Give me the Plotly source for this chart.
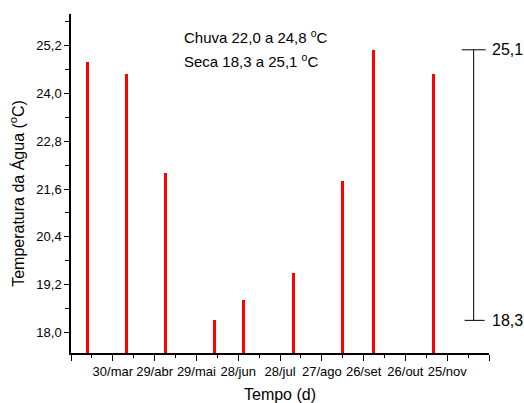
import plotly.graph_objects as go
import datetime as dt

# ---- data ----
dates = ["2010-03-12", "2010-04-09", "2010-05-07", "2010-06-11", "2010-07-02",
         "2010-08-07", "2010-09-11", "2010-10-03", "2010-11-15"]
temps = [24.8, 24.5, 22.0, 18.3, 18.8, 19.5, 21.8, 25.1, 24.5]
season = ["Chuva", "Chuva", "Chuva", "Seca", "Seca", "Seca", "Seca", "Seca", "Chuva"]

x_tick_dates = ["2010-02-28", "2010-03-30", "2010-04-29", "2010-05-29", "2010-06-28",
                "2010-07-28", "2010-08-27", "2010-09-26", "2010-10-26", "2010-11-25",
                "2010-12-25"]
x_tick_labels = ["", "30/mar", "29/abr", "29/mai", "28/jun", "28/jul", "27/ago",
                 "26/set", "26/out", "25/nov", ""]
y_ticks = [18.0, 19.2, 20.4, 21.6, 22.8, 24.0, 25.2]
marker_date = "2010-12-14"

FONT = "Arial, 'Liberation Sans', sans-serif"

def fmt(v):
    return f"{v:.1f}".replace(".", ",")

chuva = [t for t, s in zip(temps, season) if s == "Chuva"]
seca = [t for t, s in zip(temps, season) if s == "Seca"]

minor_x = []
for d in x_tick_dates[:-1]:
    dd = dt.date.fromisoformat(d) + dt.timedelta(days=15)
    minor_x.append(dd.isoformat())

fig = go.Figure()
fig.add_trace(go.Bar(
    x=dates, y=temps,
    width=2.2 * 86400000,
    marker=dict(color="#FF0000", line=dict(width=0)),
    showlegend=False,
))

# range marker (Seca min - max)
smin, smax = min(seca), max(seca)
shapes = [
    dict(type="line", xref="x", yref="y", x0=marker_date, x1=marker_date,
         y0=smin, y1=smax, line=dict(color="black", width=1)),
    dict(type="line", xref="x", yref="y", xsizemode="pixel", xanchor=marker_date,
         x0=-12, x1=12, y0=smax, y1=smax, line=dict(color="black", width=1)),
    dict(type="line", xref="x", yref="y", xsizemode="pixel", xanchor=marker_date,
         x0=-9, x1=11, y0=smin, y1=smin, line=dict(color="black", width=1)),
]

annotations = [
    dict(x=marker_date, y=smax, xref="x", yref="y", xshift=16, xanchor="left",
         text=fmt(smax), showarrow=False, font=dict(family=FONT, size=16, color="black")),
    dict(x=marker_date, y=smin, xref="x", yref="y", xshift=16, xanchor="left",
         text=fmt(smin), showarrow=False, font=dict(family=FONT, size=16, color="black")),
    dict(x=0.265, y=0.935, xref="paper", yref="paper", xanchor="left", yanchor="middle",
         text=f"Chuva {fmt(min(chuva))} a {fmt(max(chuva))} <sup>o</sup>C",
         showarrow=False, font=dict(family=FONT, size=15, color="black")),
    dict(x=0.265, y=0.862, xref="paper", yref="paper", xanchor="left", yanchor="middle",
         text=f"Seca {fmt(smin)} a {fmt(smax)} <sup>o</sup>C",
         showarrow=False, font=dict(family=FONT, size=15, color="black")),
    # y-axis title
    dict(x=-0.128, y=0.471, xref="paper", yref="paper", xanchor="center", yanchor="middle",
         text="Temperatura da Água (<sup>o</sup>C)", textangle=-90,
         showarrow=False, font=dict(family=FONT, size=16, color="black")),
]

fig.update_layout(
    width=524, height=403,
    margin=dict(l=71, r=35, t=14, b=50),
    paper_bgcolor="white", plot_bgcolor="white",
    separators=",.",
    font=dict(family=FONT, size=13, color="black"),
    shapes=shapes, annotations=annotations,
    bargap=0,
)
fig.update_xaxes(
    type="date",
    range=[x_tick_dates[0], x_tick_dates[-1]],
    tickmode="array", tickvals=x_tick_dates, ticktext=x_tick_labels,
    ticks="outside", ticklen=6, tickwidth=1, tickcolor="black",
    minor=dict(tickmode="array", tickvals=minor_x, ticks="outside", ticklen=3,
               tickcolor="black", tickwidth=1, showgrid=False),
    showline=True, linecolor="black", linewidth=1.5,
    showgrid=False, zeroline=False,
    tickfont=dict(family=FONT, size=13),
    title=dict(text="Tempo (d)", font=dict(family=FONT, size=16), standoff=10),
    automargin=False,
)
fig.update_yaxes(
    range=[17.48, 26.0],
    tickmode="array", tickvals=y_ticks, tickformat=".1f",
    ticks="outside", ticklen=5, tickwidth=1, tickcolor="black",
    minor=dict(tickmode="linear", tick0=18.0, dtick=0.6, ticks="outside", ticklen=4,
               tickcolor="black", tickwidth=1, showgrid=False),
    showline=True, linecolor="black", linewidth=1.5,
    showgrid=False, zeroline=False,
    tickfont=dict(family=FONT, size=13),
    automargin=False,
)

fig.write_html("out.html")
